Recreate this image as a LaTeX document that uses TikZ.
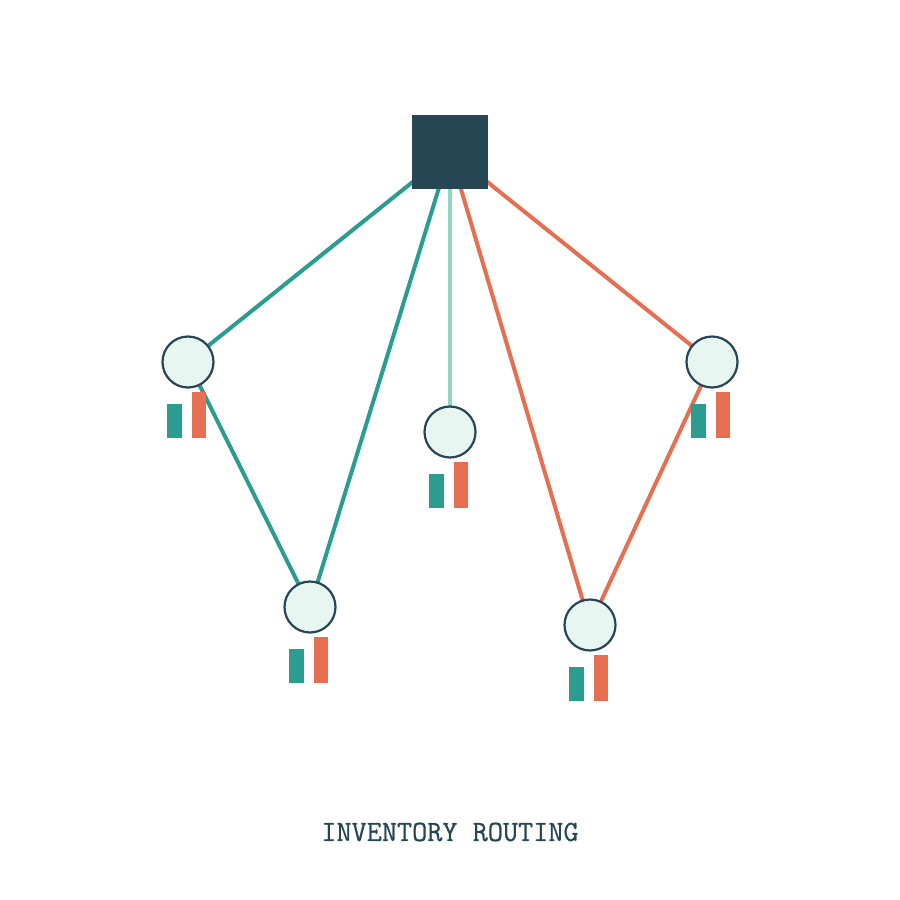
\documentclass[tikz,border=0pt]{standalone}
\usepackage{fontspec}
\newfontfamily\titlefont[FakeBold=0.6]{Latin Modern Mono}
\usetikzlibrary{backgrounds}
\definecolor{navy}{HTML}{264653}
\definecolor{teal}{HTML}{2A9D8F}
\definecolor{coral}{HTML}{E76F51}
\definecolor{mint}{HTML}{8FD8C0}
\definecolor{pale}{HTML}{E8F6F2}
\begin{document}
\begin{tikzpicture}[x=1bp,y=-1bp,
  customer/.style={circle,draw=navy,fill=pale,line width=2.2bp,minimum size=51bp,inner sep=0pt},
  depot/.style={rectangle,fill=navy,minimum width=76bp,minimum height=74bp,inner sep=0pt},
  route/.style={line width=4bp},
  tealbar/.style={fill=teal},
  coralbar/.style={fill=coral}]
\useasboundingbox (0,0) rectangle (900,900);
\node[depot] (D) at (450,152) {};
\node[customer] (A) at (188,362) {};
\node[customer] (B) at (310,607) {};
\node[customer] (C) at (450,432) {};
\node[customer] (E) at (590,625) {};
\node[customer] (F) at (712,362) {};
\begin{scope}[on background layer]
\draw[route,teal] (D.center) -- (A.center);
\draw[route,teal] (A.center) -- (B.center);
\draw[route,teal] (D.center) -- (B.center);
\draw[route,mint] (D.center) -- (C.center);
\draw[route,coral] (D.center) -- (E.center);
\draw[route,coral] (D.center) -- (F.center);
\draw[route,coral] (F.center) -- (E.center);
\end{scope}
\foreach \n in {A,B,C,E,F}{
  \fill[tealbar] ([xshift=-21bp,yshift=-42bp]\n.center) rectangle ([xshift=-6bp,yshift=-76bp]\n.center);
  \fill[coralbar] ([xshift=4bp,yshift=-30bp]\n.center) rectangle ([xshift=18bp,yshift=-76bp]\n.center);
}
\node[text=navy,font=\fontsize{29.5}{34}\selectfont\titlefont] (T) at (450,832) {INVENTORY ROUTING};
\end{tikzpicture}
\end{document}
